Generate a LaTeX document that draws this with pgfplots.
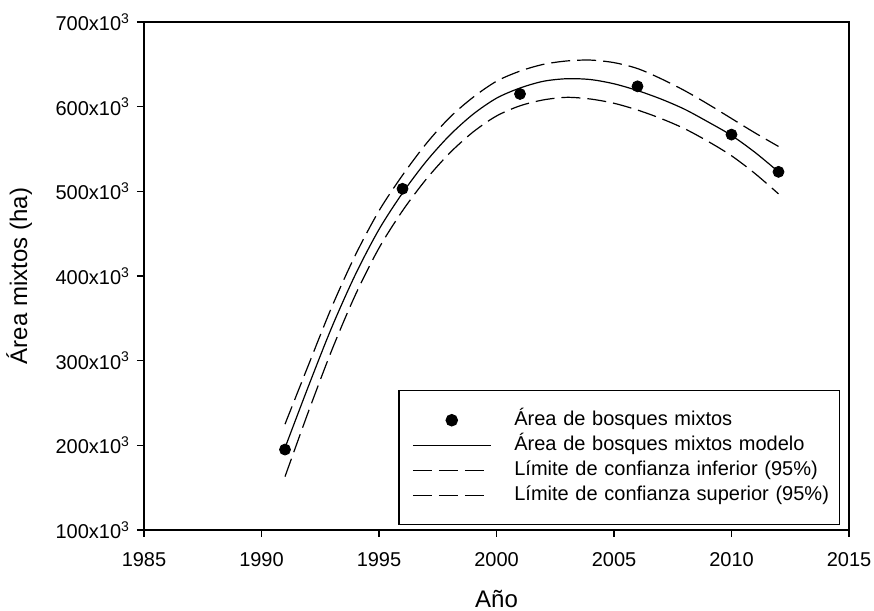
\documentclass[border=0pt]{standalone}
\usepackage{fontspec}
\setmainfont{Liberation Sans}
\usepackage{pgfplots}
\usepackage{pgfplotstable}
\pgfplotsset{compat=1.18}
\pgfplotstableread{
year low mod up
1991 163 197 225
1992 240 270 295
1993 313 340 364
1994 378 402 425
1995 433 455 477
1996 477 498 519
1997 514 535 556
1998 545 566 587
1999 570 591 611
2000 589 610 630
2001 601 622 642
2002 608 630 650
2003 611 633 654
2004 609 632 655
2005 604 627 652
2006 596 619 645
2007 586 609 633
2008 574 597 619
2009 559 582 603
2010 542 566 586
2011 521 546 569
2012 497 523 553
}\curves
\pgfplotstableread{
year val
1991 195
1996 503
2001 615
2006 624
2010 567
2012 523
}\obs
\begin{document}
\begin{tikzpicture}
\begin{axis}[
 scale only axis, width=352.5pt, height=254pt,
 xmin=1985, xmax=2015, ymin=100, ymax=700,
 xtick={1985,1990,1995,2000,2005,2010,2015},
 xticklabels={1985,1990,1995,2000,2005,2010,2015},
 ytick={100,200,300,400,500,600,700},
 yticklabels={100x10\textsuperscript{3},200x10\textsuperscript{3},300x10\textsuperscript{3},400x10\textsuperscript{3},500x10\textsuperscript{3},600x10\textsuperscript{3},700x10\textsuperscript{3}},
 tick align=outside, xtick pos=bottom, ytick pos=left, major tick length=3.5pt,
 tick style={black, line width=0.75pt},
 axis line style={line width=0.9pt},
 ticklabel style={font=\fontsize{10}{12}\selectfont},
 xticklabel style={yshift=-4pt},
 xlabel={Año}, ylabel={Área mixtos (ha)},
 every axis x label/.style={at={(axis description cs:0.5,-0.1535)}, anchor=base, font=\fontsize{12}{14}\selectfont},
 every axis y label/.style={at={(axis description cs:-0.177,0.5)}, rotate=90, anchor=center, font=\fontsize{12}{14}\selectfont},
 legend style={at={(rel axis cs:0.3603,0.2756)}, anchor=north west, draw=black, line width=0.75pt, inner xsep=5pt, inner ysep=8.5pt, column sep=11.5pt, row sep=0pt, font=\fontsize{10}{12}\selectfont, nodes={text width=157.5pt, inner sep=0pt, text height=9pt, text depth=3.5pt}},
 legend cell align=left,
 legend image code/.code={\path[draw=none,fill=none] (-2pt,0pt) rectangle (0pt,0.1pt); \draw[mark repeat=2,mark phase=2,#1] plot coordinates {(0pt,0pt)(19.5pt,0pt)(39pt,0pt)};},
]
\coordinate (ll) at (rel axis cs:0,0);
\coordinate (ur) at (rel axis cs:1,1);
\addplot[only marks, mark=*, mark size=2.75pt, black] table[x=year,y=val] {\obs};
\addlegendentry{Área de bosques mixtos}
\addplot[black, line width=0.6pt, smooth, no marks] table[x=year,y=mod] {\curves};
\addlegendentry{Área de bosques mixtos modelo}
\addplot[black, line width=0.6pt, smooth, no marks, dash pattern=on 9.5pt off 3.5pt] table[x=year,y=low] {\curves};
\addlegendentry{Límite de confianza inferior (95\%)}
\addplot[black, line width=0.6pt, smooth, no marks, dash pattern=on 9.5pt off 3.5pt] table[x=year,y=up] {\curves};
\addlegendentry{Límite de confianza superior (95\%)}
\end{axis}
\pgfresetboundingbox
\path[use as bounding box] ([shift={(-72pt,-40.5pt)}]ll) rectangle ([shift={(12.5pt,11pt)}]ur);
\end{tikzpicture}
\end{document}
